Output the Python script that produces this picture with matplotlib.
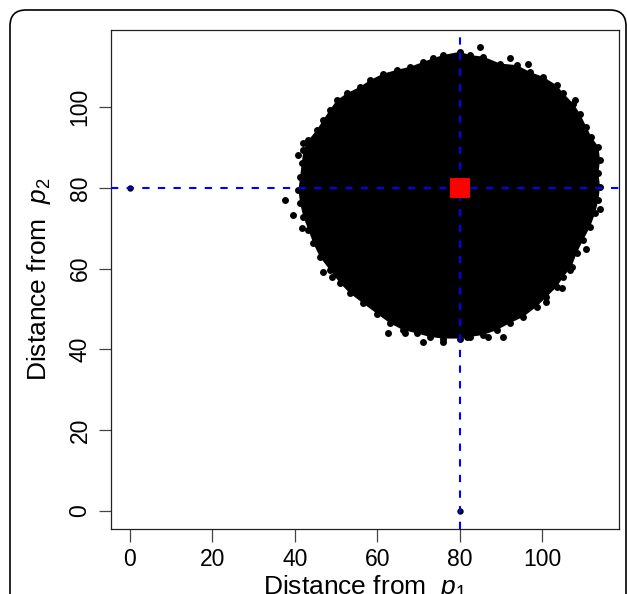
import matplotlib
matplotlib.use("Agg")
import matplotlib.pyplot as plt
from matplotlib.patches import FancyBboxPatch

plt.rcParams['font.family'] = ['Liberation Sans', 'DejaVu Sans']
plt.rcParams['mathtext.fontset'] = 'custom'
plt.rcParams['mathtext.rm'] = 'Liberation Sans'
plt.rcParams['mathtext.it'] = 'Liberation Sans:italic'

# Outline of the dense point cloud
cloud_x = [76.0, 80.1, 82.5, 85.8, 89.8, 93.9, 97.1, 100.3, 103.6, 105.2, 107.6, 109.2,
           110.8, 112.0, 113.7, 114.1, 113.7, 114.1, 113.7, 112.9, 111.7, 110.0, 108.4,
           107.2, 105.2, 103.6, 101.1, 98.7, 95.5, 92.2, 89.0, 85.8, 82.5, 80.1, 76.0,
           72.8, 69.6, 66.3, 63.1, 59.9, 56.6, 53.4, 51.0, 48.5, 46.1, 44.5, 43.3, 42.1,
           41.3, 40.9, 41.3, 41.7, 42.1, 43.3, 45.3, 46.9, 48.5, 50.2, 52.6, 55.8, 58.3,
           61.5, 64.7, 68.0, 71.2, 73.6]
cloud_y = [112.9, 113.7, 112.9, 112.5, 110.8, 110.4, 108.7, 107.5, 105.4, 103.4, 100.9, 98.4,
           95.1, 92.6, 90.2, 86.9, 83.6, 80.3, 77.0, 73.7, 70.4, 67.1, 63.8,
           60.5, 58.0, 55.5, 53.0, 50.6, 48.1, 46.5, 44.8, 43.6, 43.1, 42.7, 42.7,
           43.1, 44.0, 44.8, 46.5, 48.9, 51.4, 53.9, 56.4, 59.7, 62.9, 66.3, 69.6, 72.8,
           76.2, 79.5, 82.7, 86.1, 89.4, 91.8, 94.3, 96.8, 99.3, 101.7, 103.4, 105.0, 106.7,
           108.3, 109.2, 110.0, 111.2, 112.1]

# Stray points around the edge of the cloud
edge_x = [85.0, 92.2, 96.7, 108.0, 114.1, 110.8, 106.8, 104.8, 101.1, 90.6, 87.0, 81.7,
          76.0, 71.2, 66.7, 62.7, 49.0, 46.9, 41.7, 39.6, 37.6, 42.1, 40.9]
edge_y = [114.9, 112.1, 110.8, 101.7, 74.9, 65.0, 59.7, 55.1, 51.8, 43.1, 43.1, 43.1,
          41.9, 41.9, 44.0, 44.0, 58.0, 59.2, 70.0, 73.3, 77.0, 91.0, 88.1]

# Isolated points
iso_x = [0, 80]
iso_y = [80, 0]

# Reference point / lines
ref_x = 80
ref_y = 80

x_ticks = [0, 20, 40, 60, 80, 100]
y_ticks = [0, 20, 40, 60, 80, 100]

fig = plt.figure(figsize=(6.27, 5.94), dpi=100)
ax = fig.add_axes([111/627, 65/594, 508/627, 499/594])

ax.fill(cloud_x, cloud_y, color='black', zorder=2, lw=0)
ax.plot(cloud_x, cloud_y, 'o', color='black', ms=5, mew=0, zorder=2)
ax.plot(edge_x, edge_y, 'o', color='black', ms=5, mew=0, zorder=2)
ax.plot(iso_x, iso_y, 'o', color='black', ms=4.6, mew=0, zorder=2)

ax.axvline(ref_x, color='blue', lw=1.5, dashes=(3.5, 4), zorder=3)
ax.axhline(ref_y, color='blue', lw=1.5, dashes=(3.5, 4), zorder=3)
ax.plot([ref_x], [ref_y], 's', color='red', ms=15, mew=0, zorder=4)

ax.set_xlim(-4.6, 118.7)
ax.set_ylim(-4.45, 119.1)
ax.set_xticks(x_ticks)
ax.set_yticks(y_ticks)
ax.set_xticklabels([str(v) for v in x_ticks], fontsize=16.5)
ax.set_yticklabels([str(v) for v in y_ticks], fontsize=16.5, rotation=90, va='center')
ax.tick_params(length=9, width=0.9, color='#444444', pad=5)
for s in ax.spines.values():
    s.set_linewidth(0.9)
    s.set_color('#222222')

ax.set_xlabel('Distance from  $p_1$', fontsize=19, labelpad=1)
ax.set_ylabel('Distance from  $p_2$', fontsize=19, labelpad=11)

frame = FancyBboxPatch((10, -30), 616, 614, boxstyle="round,pad=0,rounding_size=16",
                       transform=None, fill=False, edgecolor='black', lw=1.2)
fig.add_artist(frame)

fig.savefig('out.png', dpi=100)
